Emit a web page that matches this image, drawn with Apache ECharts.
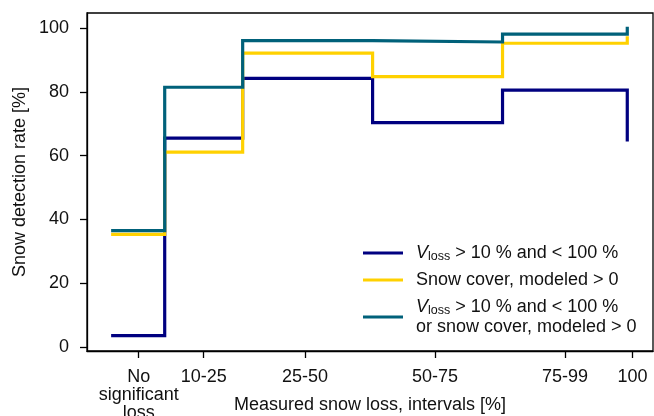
<!DOCTYPE html>
<html>
<head>
<meta charset="utf-8">
<script src="https://cdn.jsdelivr.net/npm/echarts@6/dist/echarts.min.js"></script>
<style>
  html, body { margin: 0; padding: 0; background: #fff; }
  #chart { width: 654px; height: 416px; }
</style>
</head>
<body>
<div id="chart"></div>
<script>
// Interval start positions (measured snow loss, %) for the step lines
const xEdges = [0, 10, 25, 50, 75, 99];

// Snow detection rate [%] per interval
const vlossRate = [3.5, 65.5, 84.3, 70.4, 80.6, 65.0];
const snowCoverRate = [35.3, 61.1, 92.2, 84.8, 95.3, 97.0];
const eitherRate = [36.5, 81.5, 96.1, 95.7, 98.2, 100];

// Category ticks along the x axis
const xTickPos = [5, 17.5, 37, 62, 87, 100];
const xTickLabels = ['No\nsignificant\nloss', '10-25', '25-50', '50-75', '75-99', '100'];

// Y axis ticks
const yTicks = [0, 20, 40, 60, 80, 100];

const seriesNames = ['vloss', 'snowcover', 'either'];
const legendText = {
  vloss: '{v|V}{s|loss} > 10 % and < 100 %',
  snowcover: 'Snow cover, modeled > 0',
  either: '{v|V}{s|loss} > 10 % and < 100 %\nor snow cover, modeled > 0'
};
const colors = ['#000080', '#FFD100', '#00617A'];

const FONT = '"Liberation Sans", Arial, sans-serif';
const FS = 18;
const TXT = '#111';

function pairs(xs, ys) {
  return xs.map((x, i) => [x, ys[i]]);
}

const chart = echarts.init(document.getElementById('chart'), null, { renderer: 'canvas' });

const lineSeries = [vlossRate, snowCoverRate, eitherRate].map((vals, i) => ({
  name: seriesNames[i],
  type: 'line',
  step: 'end',
  symbol: 'none',
  data: pairs(xEdges, vals),
  lineStyle: { color: colors[i], width: 3.2, cap: 'square', join: 'miter' },
  itemStyle: { color: colors[i] },
  z: 2 + i
}));

chart.setOption({
  animation: false,
  backgroundColor: '#fff',
  textStyle: { fontFamily: FONT },
  grid: {
    left: 87, right: 1, top: 13, bottom: 65,
    outerBoundsMode: 'none',
    containLabel: false,
    show: true, borderColor: '#000', borderWidth: 1.3, backgroundColor: 'transparent'
  },
  legend: {
    show: true,
    data: seriesNames,
    orient: 'vertical',
    left: 363,
    top: 243,
    padding: 0,
    icon: 'rect',
    itemWidth: 40,
    itemHeight: 3,
    itemGap: 7,
    formatter: (name) => legendText[name],
    textStyle: {
      fontFamily: FONT, fontSize: FS, color: TXT, lineHeight: 20,
      padding: [0, 0, 0, 8],
      rich: {
        v: { fontFamily: FONT, fontSize: FS, fontStyle: 'italic', color: TXT, lineHeight: 20 },
        s: { fontFamily: FONT, fontSize: 12.5, color: TXT, lineHeight: 11, verticalAlign: 'bottom' }
      }
    },
    selectedMode: false
  },
  xAxis: {
    type: 'value',
    min: -4.95,
    max: 103.95,
    name: 'Measured snow loss, intervals [%]',
    nameLocation: 'middle',
    nameGap: 44,
    nameMoveOverlap: false,
    nameTextStyle: { fontFamily: FONT, fontSize: FS, color: TXT, lineHeight: 20 },
    axisLine: { show: true, onZero: false, lineStyle: { color: '#000', width: 1.3 } },
    axisTick: { show: true, length: 7, customValues: xTickPos, lineStyle: { color: '#000', width: 1.3 } },
    axisLabel: {
      customValues: xTickPos,
      margin: 17,
      fontFamily: FONT, fontSize: FS, color: TXT, lineHeight: 18,
      formatter: (v) => {
        const k = xTickPos.indexOf(v);
        return k >= 0 ? xTickLabels[k] : '';
      }
    },
    splitLine: { show: false }
  },
  yAxis: {
    type: 'value',
    min: -1.3,
    max: 104.8,
    name: 'Snow detection rate [%]',
    nameLocation: 'middle',
    nameGap: 58,
    nameMoveOverlap: false,
    nameTextStyle: { fontFamily: FONT, fontSize: FS, color: TXT },
    axisLine: { show: true, onZero: false, lineStyle: { color: '#000', width: 1.3 } },
    axisTick: { show: true, length: 7, customValues: yTicks, lineStyle: { color: '#000', width: 1.3 } },
    axisLabel: {
      customValues: yTicks,
      margin: 18,
      fontFamily: FONT, fontSize: FS, color: TXT
    },
    splitLine: { show: false }
  },
  series: lineSeries
});
</script>
</body>
</html>
